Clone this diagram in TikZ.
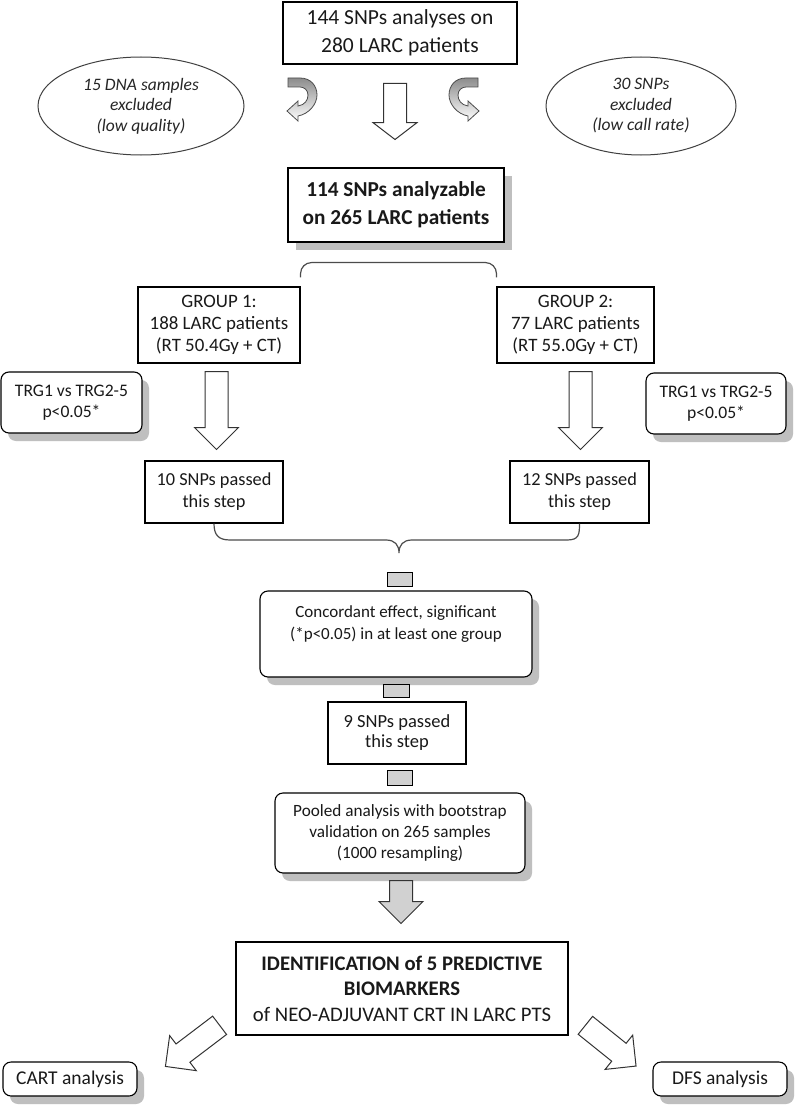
\documentclass[tikz,border=0pt]{standalone}
\usepackage{fontspec}
\setmainfont{Carlito}
\usetikzlibrary{shapes.geometric,shapes.arrows,shadows,calc}

\tikzset{
  box/.style={draw=black, line width=1.1pt, fill=white, inner sep=0pt, align=center, text=black!90},
  sbox/.style={box, drop shadow={shadow xshift=8pt, shadow yshift=-8pt, fill=black!25, opacity=1}},
  rbox/.style={box, rounded corners=8pt, drop shadow={shadow xshift=7pt, shadow yshift=-8pt, fill=black!25, opacity=1}},
  oval/.style={ellipse, draw=black!75, line width=1pt, inner sep=0pt, align=center, text=black!85},
  tab/.style={draw=black, line width=1pt, fill=black!18, inner sep=0pt},
  barrow/.style={single arrow, draw=black!80, line width=1pt, fill=white, inner xsep=0pt, inner ysep=11pt,
                 single arrow head extend=10.5pt, minimum width=43pt, anchor=tail},
  bracestyle/.style={draw=black!70, line width=1.2pt},
  curl/.style={draw=black!70, line width=0.8pt, top color=black!45, bottom color=white},
}

\begin{document}
\begin{tikzpicture}[x=1pt,y=1pt]
\fill[white] (0,0) rectangle (796,-1105);
\useasboundingbox (0,0) rectangle (796,-1105);

% top
\node[box, minimum width=234pt, minimum height=62pt, font=\fontsize{21.5}{28}\selectfont] (top) at (400,-33) {144 SNPs analyses on\\280 LARC patients};

\node[oval, minimum width=206pt, minimum height=98pt, font=\itshape\fontsize{17.5}{20.5}\selectfont] (exA) at (141,-106) {15 DNA samples\\excluded\\(low quality)};
\node[oval, minimum width=190pt, minimum height=98pt, font=\itshape\fontsize{17.5}{20.5}\selectfont] (exB) at (641,-106) {30 SNPs\\excluded\\(low call rate)};

% curled arrows
\path[curl] (288,-78) -- (300,-78) .. controls (311,-78) and (317,-86) .. (317,-95)
  .. controls (317,-104) and (309,-114) .. (298,-116) -- (298,-121) -- (287,-111) -- (298,-101) -- (298,-106)
  .. controls (305,-105) and (308,-100) .. (308,-95) .. controls (308,-90) and (304,-87) .. (300,-87) -- (288,-87) -- cycle;
\begin{scope}[xshift=766pt, xscale=-1]
\path[curl] (288,-78) -- (300,-78) .. controls (311,-78) and (317,-86) .. (317,-95)
  .. controls (317,-104) and (309,-114) .. (298,-116) -- (298,-121) -- (287,-111) -- (298,-101) -- (298,-106)
  .. controls (305,-105) and (308,-100) .. (308,-95) .. controls (308,-90) and (304,-87) .. (300,-87) -- (288,-87) -- cycle;
\end{scope}

\node[barrow, minimum height=56pt, single arrow tip angle=105, rotate=-90] (a0) at (395,-83) {};

\node[sbox, minimum width=216pt, minimum height=74pt, font=\bfseries\fontsize{21.3}{28}\selectfont] (ana) at (396,-205) {114 SNPs analyzable\\on 265 LARC patients};

% groups
\node[box, minimum width=162pt, minimum height=76pt, font=\fontsize{18.9}{22}\selectfont] (g1) at (219,-325) {GROUP 1:\\188 LARC patients\\(RT 50.4Gy + CT)};
\node[box, minimum width=157pt, minimum height=76pt, font=\fontsize{18.9}{22}\selectfont] (g2) at (575.5,-325) {GROUP 2:\\77 LARC patients\\(RT 55.0Gy + CT)};

\draw[bracestyle, rounded corners=11pt] ($(g1.north east)+(0,9)$) |- ($(ana.south)+(0,-20)$) -| ($(g2.north west)+(0,9)$);

\node[rbox, minimum width=141pt, minimum height=61pt, font=\fontsize{17.6}{21}\selectfont] (t1) at (71.5,-402.5) {TRG1 vs TRG2-5\\p<0.05*};
\node[rbox, minimum width=140pt, minimum height=61pt, font=\fontsize{17.6}{21}\selectfont] (t2) at (716,-403.5) {TRG1 vs TRG2-5\\p<0.05*};

\node[barrow, minimum height=78pt, rotate=-90] (a1) at (216.5,-371) {};
\node[barrow, minimum height=78pt, rotate=-90] (a2) at (580.5,-371) {};

\node[box, minimum width=138pt, minimum height=62pt, font=\fontsize{18.3}{22}\selectfont] (s10) at (214,-492) {10 SNPs passed\\this step};
\node[box, minimum width=139pt, minimum height=62pt, font=\fontsize{18.3}{22}\selectfont] (s12) at (579.5,-492) {12 SNPs passed\\this step};

\coordinate (bt) at (399,-553);
\draw[bracestyle] (s10.south) .. controls +(0,-11) and +(-12,0) .. (230,-540) -- (386,-540)
  .. controls +(9,0) and +(0,8) .. (bt) .. controls +(0,8) and +(-9,0) .. (412,-540) -- (567,-540)
  .. controls +(12,0) and +(0,-11) .. (s12.south);

\node[tab, minimum width=25pt, minimum height=14pt] (r1) at (399.5,-579) {};

\node[rbox, minimum width=272pt, minimum height=86pt, font=\fontsize{17}{22}\selectfont] (conc) at (396,-634) {Concordant effect, significant\\(*p<0.05) in at least one group\\\mbox{}};

\node[tab, minimum width=26pt, minimum height=13pt] (r2) at (396,-690.5) {};

\node[box, minimum width=138pt, minimum height=62pt, font=\fontsize{18.5}{20}\selectfont] (s9) at (397,-733) {9 SNPs passed\\this step};

\node[tab, minimum width=25pt, minimum height=15pt] (r3) at (399.5,-777.5) {};

\node[rbox, minimum width=250pt, minimum height=80pt, font=\fontsize{17.2}{21}\selectfont] (pool) at (400,-833) {Pooled analysis with bootstrap\\validation on 265 samples\\(1000 resampling)};

\node[barrow, fill=black!18, minimum height=43pt, rotate=-90] (a3) at (401,-880) {};

\node[box, minimum width=332pt, minimum height=93pt, font=\fontsize{20.7}{25.5}\selectfont] (id) at (402,-988.5) {\textbf{IDENTIFICATION of 5 PREDICTIVE}\\\textbf{BIOMARKERS}\\of NEO-ADJUVANT CRT IN LARC PTS};

\node[barrow, minimum height=68pt, rotate=-142.8] (a4) at (220,-1025) {};
\node[barrow, minimum height=65pt, rotate=-38.8] (a5) at (585,-1025) {};

\node[rbox, minimum width=134pt, minimum height=34pt, font=\fontsize{19.5}{22}\selectfont] (cart) at (70,-1079) {CART analysis};
\node[rbox, minimum width=134pt, minimum height=34pt, font=\fontsize{19.5}{22}\selectfont] (dfs) at (720,-1079) {DFS analysis};
\end{tikzpicture}
\end{document}
